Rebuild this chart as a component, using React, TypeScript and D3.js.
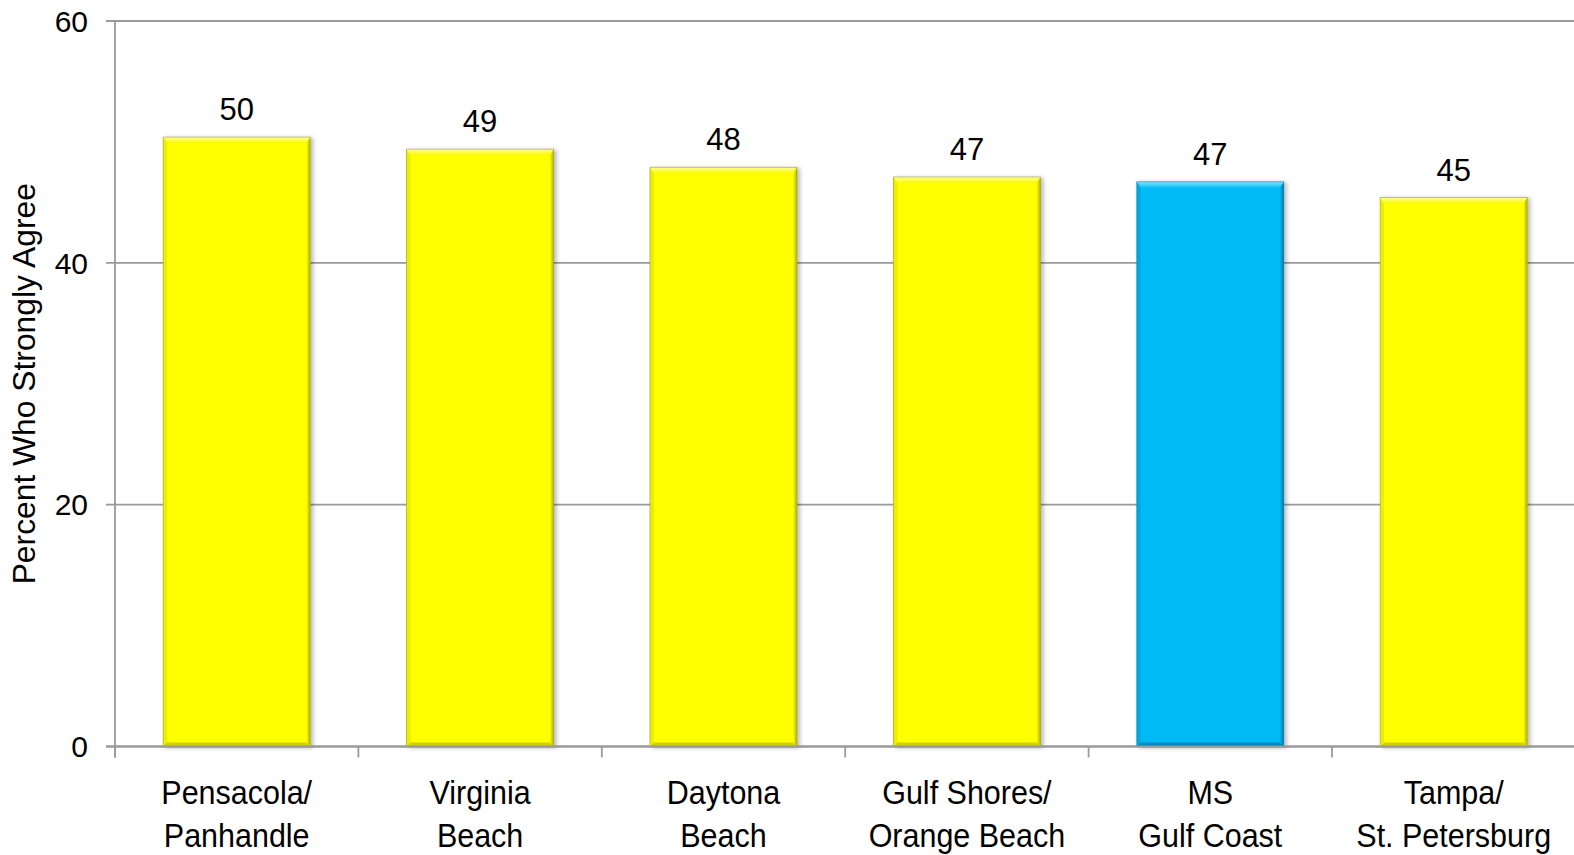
import React from "react";
import * as d3 from "d3";

// Share of respondents who strongly agree, by destination
const destinations: string[][] = [
  ["Pensacola/", "Panhandle"],
  ["Virginia", "Beach"],
  ["Daytona", "Beach"],
  ["Gulf Shores/", "Orange Beach"],
  ["MS", "Gulf Coast"],
  ["Tampa/", "St. Petersburg"],
];
const percentAgree: number[] = [50.4, 49.4, 47.9, 47.1, 46.7, 45.4];
const highlighted: boolean[] = [false, false, false, false, true, false];
const yTicks: number[] = [0, 20, 40, 60];

const W = 1574;
const H = 855;
const left = 115;
const step = 243.4;
const top = 21;
const bottom = 746.5;

type Palette = { base: string; topA: string; topB: string; leftC: string; rightC: string; bottomC: string; edge: string };
const yellow: Palette = {
  base: "#FFFF00",
  topA: "#FFFF9A",
  topB: "#FAFA00",
  leftC: "#EDED00",
  rightC: "#B4B400",
  bottomC: "#CFCF00",
  edge: "#9A9A30",
};
const blue: Palette = {
  base: "#02BAF6",
  topA: "#7FE2FF",
  topB: "#0BC0F8",
  leftC: "#00A9E4",
  rightC: "#00729F",
  bottomC: "#0089BC",
  edge: "#2A7FA0",
};

function Bar({ x, y, w, h, p, id }: { x: number; y: number; w: number; h: number; p: Palette; id: string }) {
  const bt = 6; // top bevel depth
  const bs = 4; // side bevel depth
  return (
    <g filter="url(#barShadow)">
      <defs>
        <linearGradient id={`top-${id}`} x1="0" y1="0" x2="0" y2="1">
          <stop offset="0" stopColor={p.topA} />
          <stop offset="1" stopColor={p.topB} />
        </linearGradient>
        <linearGradient id={`right-${id}`} x1="0" y1="0" x2="1" y2="0">
          <stop offset="0" stopColor={p.base} />
          <stop offset="1" stopColor={p.rightC} />
        </linearGradient>
      </defs>
      <rect x={x} y={y} width={w} height={h} fill={p.base} />
      <polygon points={`${x},${y} ${x + bs},${y + bt} ${x + bs},${y + h - bs} ${x},${y + h}`} fill={p.leftC} />
      <polygon
        points={`${x + w},${y} ${x + w},${y + h} ${x + w - bs},${y + h - bs} ${x + w - bs},${y + bt}`}
        fill={`url(#right-${id})`}
      />
      <polygon points={`${x},${y + h} ${x + w},${y + h} ${x + w - bs},${y + h - bs} ${x + bs},${y + h - bs}`} fill={p.bottomC} />
      <polygon points={`${x},${y} ${x + w},${y} ${x + w - bs},${y + bt} ${x + bs},${y + bt}`} fill={`url(#top-${id})`} />
      <rect x={x} y={y} width={w} height={h} fill="none" stroke={p.edge} strokeWidth={0.8} strokeOpacity={0.7} />
    </g>
  );
}

export default function App() {
  const x = d3
    .scaleBand<number>()
    .domain(d3.range(destinations.length))
    .range([left, left + step * destinations.length])
    .paddingInner(0.396)
    .paddingOuter(0.198);
  const y = d3.scaleLinear().domain([0, 60]).range([bottom, top]);
  const axisColor = "#9A9A9A";
  const font = "'Liberation Sans', Arial, sans-serif";
  const bandEdges = d3.range(destinations.length + 1).map((i) => left + i * step);

  return (
    <svg
      width={W}
      height={H}
      viewBox={`0 0 ${W} ${H}`}
      style={{ position: "absolute", left: 0, top: 0, display: "block", background: "#fff" }}
      fontFamily={font}
    >
      <defs>
        <filter id="barShadow" x="-10%" y="-10%" width="125%" height="125%">
          <feDropShadow dx="2.5" dy="1" stdDeviation="2" floodColor="#000" floodOpacity="0.28" />
        </filter>
      </defs>

      {/* horizontal gridlines and y ticks */}
      {yTicks.map((t) => (
        <g key={t}>
          <line x1={left - 9} x2={W} y1={y(t)} y2={y(t)} stroke={axisColor} strokeWidth={1.8} />
          <text x={88} y={y(t)} dy="0.36em" textAnchor="end" fontSize={30} fill="#000">
            {t}
          </text>
        </g>
      ))}

      {/* y axis */}
      <line x1={left} x2={left} y1={top} y2={bottom + 11} stroke={axisColor} strokeWidth={1.8} />

      {/* x ticks between categories */}
      {bandEdges.map((bx, i) => (
        <line key={i} x1={bx} x2={bx} y1={bottom} y2={bottom + 11} stroke={axisColor} strokeWidth={1.8} />
      ))}

      {/* bars */}
      {percentAgree.map((v, i) => {
        const bx = x(i) as number;
        const by = y(v);
        return (
          <Bar
            key={i}
            id={`b${i}`}
            x={bx}
            y={by}
            w={x.bandwidth()}
            h={y(0) - by}
            p={highlighted[i] ? blue : yellow}
          />
        );
      })}

      {/* baseline drawn above bars */}
      <line x1={left - 9} x2={W} y1={bottom} y2={bottom} stroke={axisColor} strokeWidth={1.8} />

      {/* value labels */}
      {percentAgree.map((v, i) => (
        <text
          key={i}
          x={(x(i) as number) + x.bandwidth() / 2}
          y={y(v) - 17}
          textAnchor="middle"
          fontSize={31}
          fill="#000"
        >
          {d3.format(".0f")(v)}
        </text>
      ))}

      {/* category labels */}
      {destinations.map((lines, i) => {
        const cx = (x(i) as number) + x.bandwidth() / 2;
        return (
          <g key={i} transform={`translate(${cx},0) scale(0.91,1)`}>
            {lines.map((ln, j) => (
              <text key={j} x={0} y={804 + j * 42.7} textAnchor="middle" fontSize={33.5} fill="#000">
                {ln}
              </text>
            ))}
          </g>
        );
      })}

      {/* y axis title */}
      <text
        transform={`translate(34.5,${(top + bottom) / 2}) rotate(-90)`}
        textAnchor="middle"
        fontSize={31.8}
        fill="#000"
      >
        Percent Who Strongly Agree
      </text>
    </svg>
  );
}
